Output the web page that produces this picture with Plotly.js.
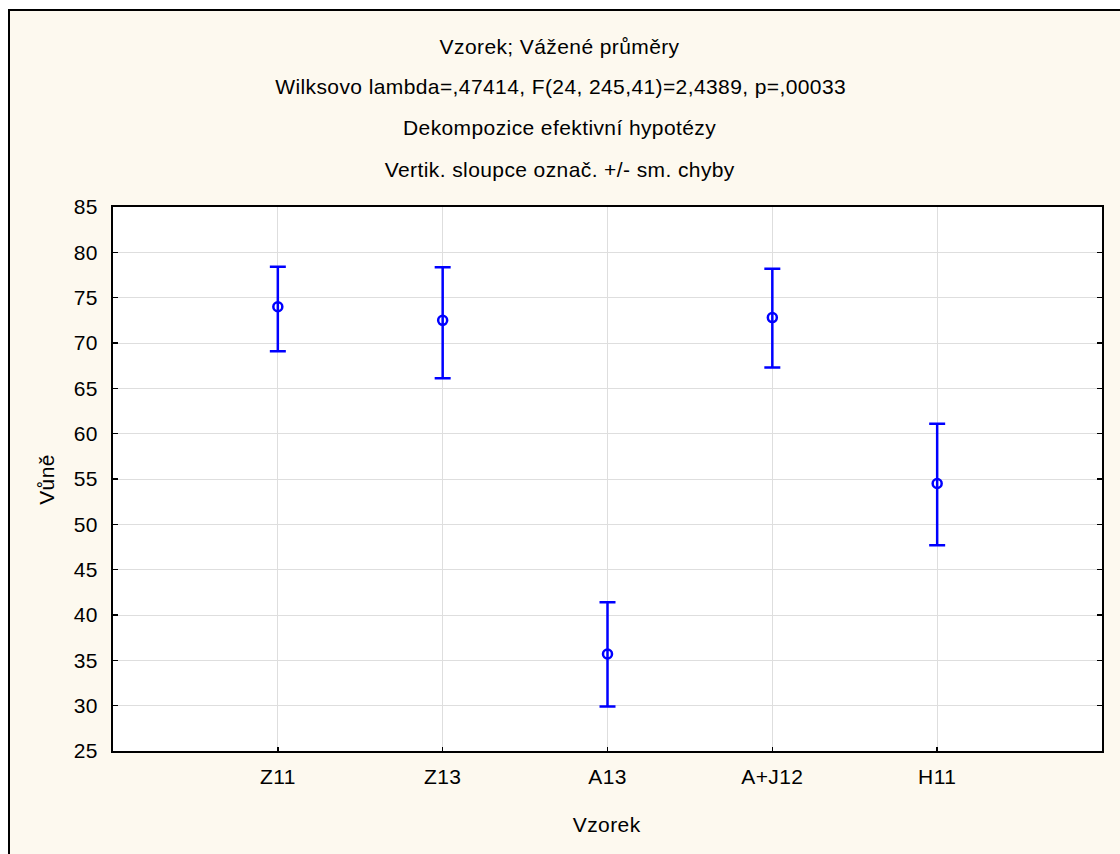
<!DOCTYPE html>
<html>
<head>
<meta charset="utf-8">
<script src="https://cdn.plot.ly/plotly-3.0.1.min.js"></script>
<style>
  html, body { margin: 0; padding: 0; background: #ffffff; width: 1120px; height: 854px; overflow: hidden; }
  #frame { position: absolute; left: 8px; top: 9px; width: 1120px; height: 854px;
           border-left: 2px solid #000; border-top: 2px solid #000; background: #fdf9ef; }
  #chart { position: absolute; left: 0; top: 0; width: 1110px; height: 843px; }
  #chart svg text { letter-spacing: 0.4px; }
</style>
</head>
<body>
<div id="frame"><div id="chart"></div></div>
<script>
const categories = ["Z11", "Z13", "A13", "A+J12", "H11"];
const means = [74.0, 72.5, 35.7, 72.8, 54.5];
const upper = [78.4, 78.35, 41.4, 78.2, 61.1];
const lower = [69.1, 66.1, 29.9, 67.3, 47.7];
const yTicks = [25, 30, 35, 40, 45, 50, 55, 60, 65, 70, 75, 80, 85];
const titleLines = [
  "Vzorek; Vážené průměry",
  "Wilksovo lambda=,47414, F(24, 245,41)=2,4389, p=,00033",
  "Dekompozice efektivní hypotézy",
  "Vertik. sloupce označ. +/- sm. chyby"
];
const xTitle = "Vzorek";
const yTitle = "Vůně";

const FONT = "Liberation Sans, Arial, sans-serif";
const FS_TITLE = 21;
const FS_TICK = 21;
const xIdx = categories.map((c, i) => i);

const trace = {
  type: "scatter",
  mode: "markers",
  x: xIdx,
  y: means,
  marker: { symbol: "circle-open", size: 9, color: "#0000ff", line: { width: 2.5, color: "#0000ff" } },
  error_y: {
    type: "data",
    symmetric: false,
    array: upper.map((u, i) => u - means[i]),
    arrayminus: lower.map((l, i) => means[i] - l),
    color: "#0000ff",
    thickness: 2.5,
    width: 8
  },
  hoverinfo: "x+y",
  showlegend: false
};

const mL = 103, mT = 196, mR = 18, mB = 103;
const plotW = 1110 - mL - mR;
const plotH = 843 - mT - mB;
const px2x = px => (px - 10 - mL) / plotW;
const py2y = py => 1 - (py - 11 - mT) / plotH;
const titleY = [46, 87, 128, 169];

const annotations = titleLines.map((t, i) => ({
  text: t,
  xref: "paper", yref: "paper",
  x: px2x(560), y: py2y(titleY[i]),
  xanchor: "center", yanchor: "middle",
  showarrow: false,
  font: { family: FONT, size: FS_TITLE, color: "#000" }
}));
annotations.push({
  text: xTitle, xref: "paper", yref: "paper",
  x: px2x(607), y: py2y(824), xanchor: "center", yanchor: "middle",
  showarrow: false, font: { family: FONT, size: FS_TITLE, color: "#000" }
});
annotations.push({
  text: yTitle, xref: "paper", yref: "paper",
  x: px2x(46), y: py2y(480), xanchor: "center", yanchor: "middle", textangle: -90,
  showarrow: false, font: { family: FONT, size: FS_TITLE, color: "#000" }
});

const layout = {
  width: 1110, height: 843,
  margin: { l: mL, r: mR, t: mT, b: mB, pad: 0 },
  paper_bgcolor: "rgba(0,0,0,0)",
  plot_bgcolor: "#ffffff",
  showlegend: false,
  annotations: annotations,
  xaxis: {
    range: [-1, 5],
    tickmode: "array",
    tickvals: xIdx,
    ticktext: categories,
    showgrid: true, gridcolor: "#dedede", gridwidth: 1,
    zeroline: false,
    showline: true, linecolor: "#000", linewidth: 2,
    ticks: "inside", ticklen: 4, tickwidth: 1.5, tickcolor: "#000",
    mirror: true,
    ticklabelstandoff: 6,
    tickfont: { family: FONT, size: FS_TICK, color: "#000" },
    fixedrange: true
  },
  yaxis: {
    range: [25, 85],
    tickmode: "array",
    tickvals: yTicks,
    ticktext: yTicks.map(String),
    showgrid: true, gridcolor: "#dedede", gridwidth: 1,
    zeroline: false,
    showline: true, linecolor: "#000", linewidth: 2,
    ticks: "inside", ticklen: 5, tickwidth: 1.5, tickcolor: "#000",
    mirror: "ticks",
    ticklabelstandoff: 9,
    tickfont: { family: FONT, size: FS_TICK, color: "#000" },
    fixedrange: true
  }
};

Plotly.newPlot("chart", [trace], layout, { displayModeBar: false, staticPlot: true });
</script>
</body>
</html>
